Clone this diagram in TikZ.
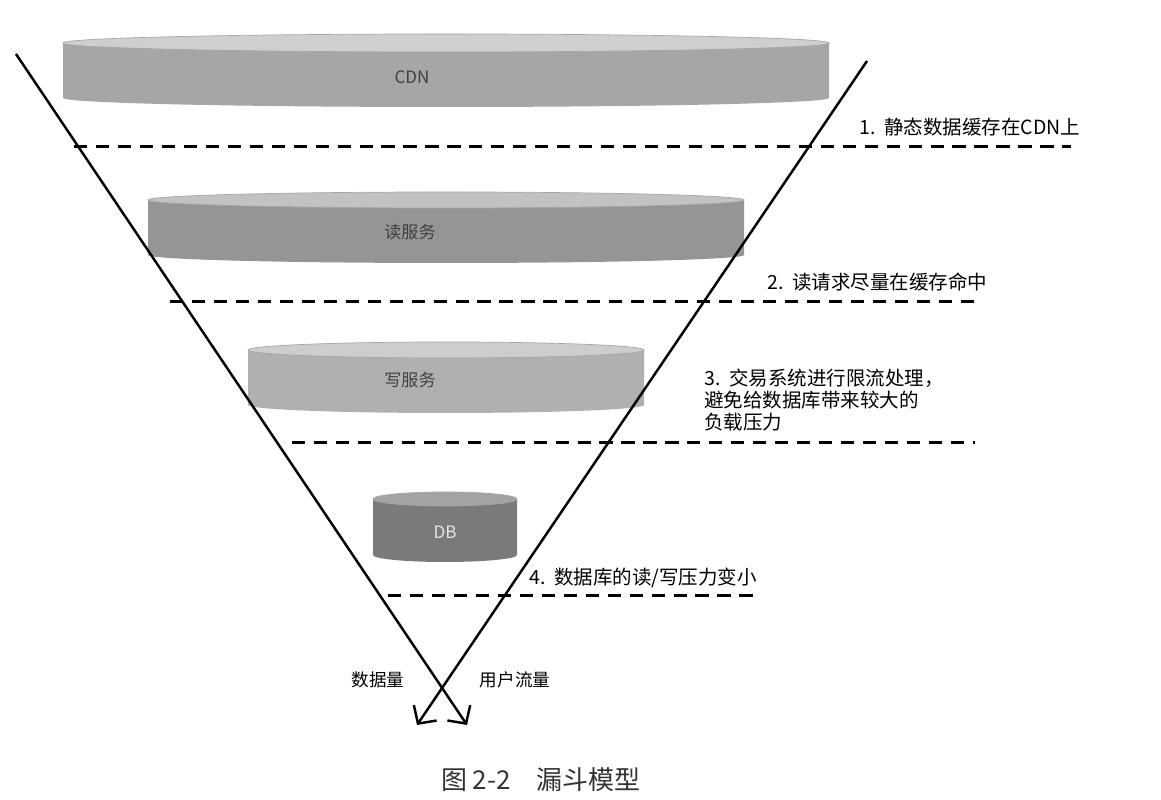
\documentclass[tikz,border=0pt]{standalone}
\usepackage{fontspec}
\newfontfamily\cjk{Noto Sans CJK SC}
\usetikzlibrary{arrows.meta}

\definecolor{cdnbody}{HTML}{A6A6A6}
\definecolor{cdntop}{HTML}{CFCFCF}
\definecolor{readbody}{HTML}{959595}
\definecolor{readtop}{HTML}{C2C2C2}
\definecolor{writebody}{HTML}{B0B0B0}
\definecolor{writetop}{HTML}{CDCDCD}
\definecolor{dbbody}{HTML}{7A7A7A}
\definecolor{dbtop}{HTML}{A3A3A3}

% disc: centre x, top y, bottom y, half width, y radius, body colour, top colour
\newcommand{\drawdisc}[7]{%
  \fill[#6] (#1-#4,#2) -- (#1-#4,#3) arc[start angle=180, end angle=360, x radius=#4, y radius=#5] -- (#1+#4,#2) -- cycle;
  \fill[#7, draw=black!35, line width=0.4pt] (#1,#2) ellipse [x radius=#4, y radius=#5];
}

\tikzset{
  every node/.style={text=black, font=\cjk},
  tier/.style={font=\cjk\fontsize{9.7}{11}\selectfont, text=black!75},
  note/.style={anchor=west, align=left, font=\cjk\fontsize{11.1}{12.5}\selectfont},
  axis/.style={font=\cjk\fontsize{10}{12}\selectfont},
  flow/.style={draw=black, line width=1.4pt, -{Straight Barb[length=2.6mm,width=5.5mm]}},
  level/.style={draw=black, line width=1.7pt, dash pattern=on 7.5pt off 5pt}
}

\begin{document}
\begin{tikzpicture}[x=0.02cm, y=0.02cm]
  \useasboundingbox (0,0) rectangle (1161,800);

  % Discs
  \drawdisc{446}{757}{702}{383}{9}{cdnbody}{cdntop}
  \drawdisc{446}{600}{545}{298}{8}{readbody}{readtop}
  \drawdisc{446}{450}{395}{198}{8}{writebody}{writetop}
  \drawdisc{445}{301}{245}{72}{7}{dbbody}{dbtop}
  \node (cdn) [tier] at (412,723) {CDN};
  \node (readsvc) [tier] at (410,568) {读服务};
  \node (writesvc) [tier] at (410,420) {写服务};
  \node (db) [tier, text=black!10] at (445,268) {DB};

  % Levels
  \coordinate (lv1a) at (74,653);  \coordinate (lv1b) at (1071,653);
  \coordinate (lv2a) at (170,498); \coordinate (lv2b) at (980,498);
  \coordinate (lv3a) at (292,357); \coordinate (lv3b) at (975,357);
  \coordinate (lv4a) at (388,204); \coordinate (lv4b) at (753,204);
  \draw[level] (lv1a) -- (lv1b);
  \draw[level] (lv2a) -- (lv2b);
  \draw[level] (lv3a) -- (lv3b);
  \draw[level] (lv4a) -- (lv4b);

  \node (step1) [note] at (853,673) {1.\hspace{0.45em}静态数据缓存在CDN上};
  \node (step2) [note] at (761,518) {2.\hspace{0.45em}读请求尽量在缓存命中};
  \node (step3) [note] at (698,400) {3.\hspace{0.45em}交易系统进行限流处理，\\避免给数据库带来较大的\\负载压力};
  \node (step4) [note] at (523,222) {4.\hspace{0.45em}数据库的读/写压力变小};

  % Funnel
  \coordinate (trafficTop) at (16,746);
  \coordinate (trafficEnd) at (467,75);
  \coordinate (dataTop) at (867,739);
  \coordinate (dataEnd) at (417,75);
  \draw[flow] (trafficTop) -- (trafficEnd);
  \draw[flow] (dataTop) -- (dataEnd);
  \node (datavol) [axis] at (378,120) {数据量};
  \node (traffic) [axis] at (515,120) {用户流量};

  \node (caption) [font=\cjk\fontsize{14.8}{16}\selectfont, text=black!80] at (541,20) {图 2-2\quad 漏斗模型};
\end{tikzpicture}
\end{document}
